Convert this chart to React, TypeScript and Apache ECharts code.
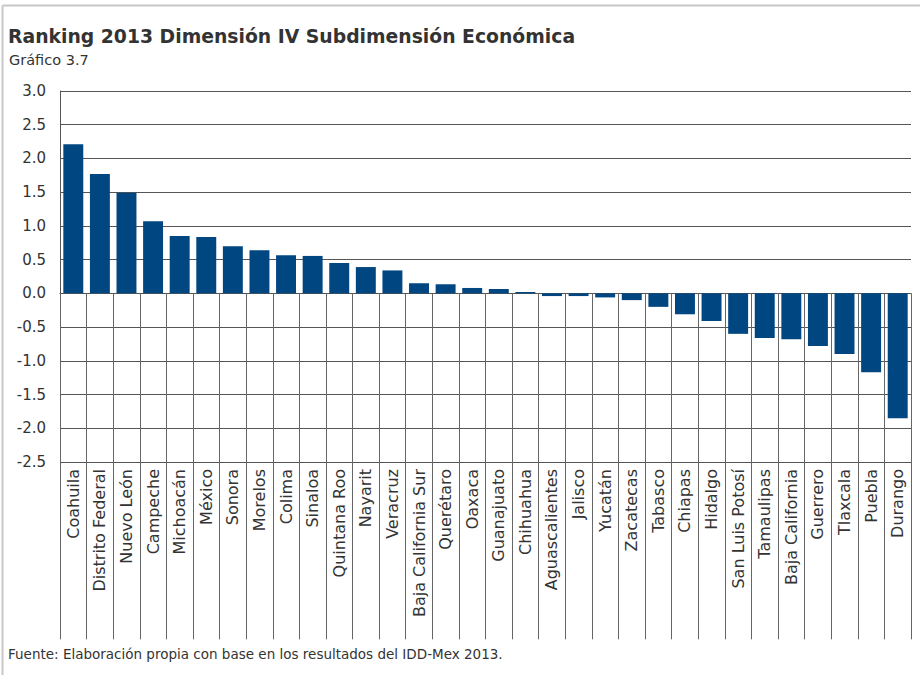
import React, { useEffect, useRef } from "react";
import * as echarts from "echarts";

const categories = [
  "Coahuila", "Distrito Federal", "Nuevo León", "Campeche", "Michoacán", "México",
  "Sonora", "Morelos", "Colima", "Sinaloa", "Quintana Roo", "Nayarit", "Veracruz",
  "Baja California Sur", "Querétaro", "Oaxaca", "Guanajuato", "Chihuahua",
  "Aguascalientes", "Jalisco", "Yucatán", "Zacatecas", "Tabasco", "Chiapas",
  "Hidalgo", "San Luis Potosí", "Tamaulipas", "Baja California", "Guerrero",
  "Tlaxcala", "Puebla", "Durango",
];

const values = [
  2.21, 1.77, 1.49, 1.07, 0.85, 0.835, 0.7, 0.64, 0.565, 0.555, 0.45, 0.39, 0.34,
  0.15, 0.135, 0.08, 0.065, 0.02, -0.04, -0.04, -0.06, -0.1, -0.2, -0.31, -0.41,
  -0.6, -0.66, -0.68, -0.78, -0.9, -1.17, -1.85,
];

const titleText = "Ranking 2013 Dimensión IV Subdimensión Económica";
const subtitleText = "Gráfico 3.7";
const sourceText = "Fuente: Elaboración propia con base en los resultados del IDD-Mex 2013.";

const FONT = "'DejaVu Sans', Verdana, sans-serif";

export default function App() {
  const ref = useRef<HTMLDivElement>(null);
  useEffect(() => {
    if (!ref.current) return;
    const chart = echarts.init(ref.current, null, { renderer: "svg" });
    chart.setOption({
      animation: false,
      backgroundColor: "#ffffff",
      textStyle: { fontFamily: FONT },
      grid: {
        left: 60,
        right: 9,
        top: 91,
        bottom: 213,
        containLabel: false,
        outerBoundsMode: "none",
      },
      xAxis: {
        type: "category",
        data: categories,
        boundaryGap: true,
        axisLine: { onZero: true, lineStyle: { color: "#555", width: 1 } },
        axisTick: {
          show: true,
          interval: 0,
          alignWithLabel: false,
          length: 346,
          lineStyle: { color: "#666", width: 1 },
        },
        axisLabel: {
          interval: 0,
          rotate: 90,
          margin: 7,
          fontSize: 16,
          color: "#333",
          fontFamily: FONT,
          hideOverlap: false,
        },
        splitLine: { show: false },
      },
      yAxis: {
        type: "value",
        min: -2.5,
        max: 3,
        interval: 0.5,
        axisLine: { show: true, lineStyle: { color: "#555", width: 1 } },
        axisTick: { show: false },
        axisLabel: {
          fontSize: 15,
          color: "#333",
          margin: 14,
          fontFamily: FONT,
          formatter: (v: number) => v.toFixed(1),
        },
        splitLine: { show: true, lineStyle: { color: "#555", width: 1 } },
      },
      series: [
        {
          type: "bar",
          data: values,
          barCategoryGap: "25%",
          itemStyle: { color: "#004681" },
        },
      ],
      graphic: [
        {
          type: "line",
          shape: { x1: 2.5, y1: 5.5, x2: 920, y2: 5.5 },
          style: { stroke: "#c8c8c8", lineWidth: 2 },
        },
        {
          type: "line",
          shape: { x1: 2.5, y1: 5.5, x2: 2.5, y2: 675 },
          style: { stroke: "#c8c8c8", lineWidth: 2 },
        },
        {
          type: "text",
          left: 8,
          top: 27,
          style: {
            text: titleText,
            font: `bold 18.8px ${FONT}`,
            fill: "#333",
          },
        },
        {
          type: "text",
          left: 9,
          top: 52,
          style: {
            text: subtitleText,
            font: `14.5px ${FONT}`,
            fill: "#333",
          },
        },
        {
          type: "text",
          left: 8,
          top: 647,
          style: {
            text: sourceText,
            font: `13.5px ${FONT}`,
            fill: "#333",
          },
        },
      ],
    });
    return () => chart.dispose();
  }, []);
  return (
    <div
      ref={ref}
      style={{ position: "fixed", left: 0, top: 0, width: 920, height: 675 }}
    />
  );
}
